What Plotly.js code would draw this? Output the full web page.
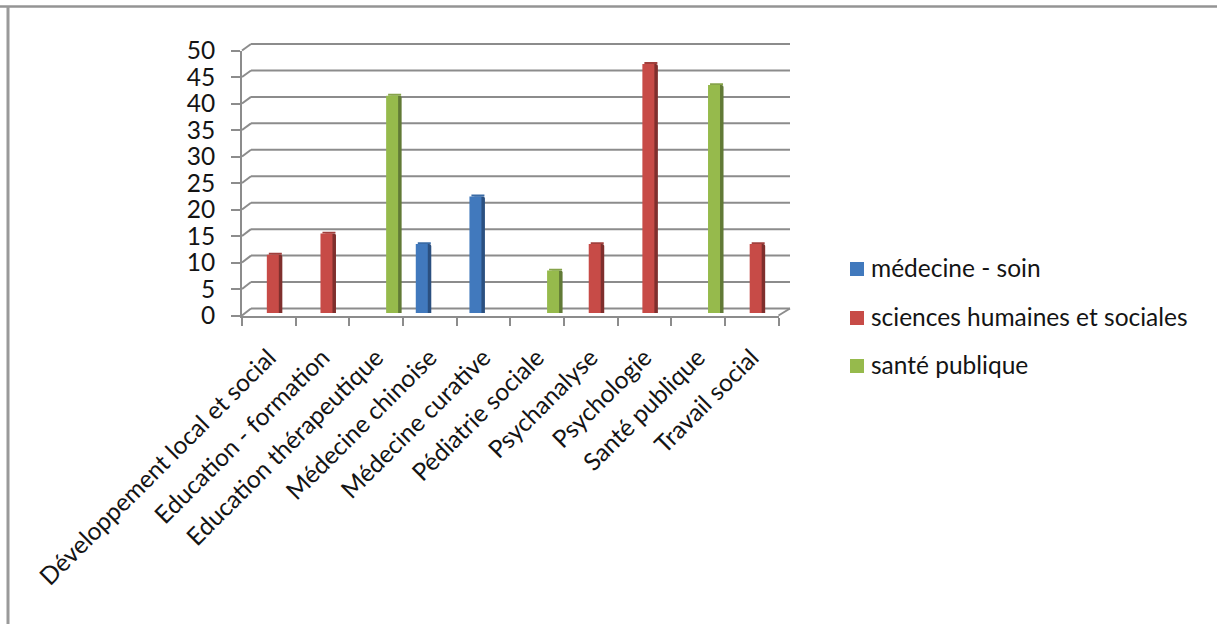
<!DOCTYPE html>
<html><head><meta charset="utf-8">
<script src="https://cdn.plot.ly/plotly-3.0.1.min.js"></script>
<style>html,body{margin:0;padding:0;background:#fff}#c{width:1217px;height:624px}</style>
</head><body><div id="c"></div>
<script>
const categories = ["Développement local et social","Education - formation","Education thérapeutique","Médecine chinoise","Médecine curative","Pédiatrie sociale","Psychanalyse","Psychologie","Santé publique","Travail social"];
const medecineSoin = [null,null,null,13,22,null,null,null,null,null];
const sciencesHumaines = [11,15,null,null,null,null,13,47,null,13];
const santePublique = [null,null,41,null,null,8,null,null,43,null];
const yTicks = [0,5,10,15,20,25,30,35,40,45,50];

const W=1217,H=624;
const px=v=>v/W, py=v=>1-v/H;
const L=242,R=778.5,catW=(R-L)/categories.length;
const gridC='#8c8c8c',textC='#141414';
const FY0=315.5,FY50=50.5,BY0=308.5,BY50=44,DX=9;
const yFront=v=>FY0+(FY50-FY0)*v/50, yBack=v=>BY0+(BY50-BY0)*v/50;

const series=[
 {name:'médecine - soin',vals:medecineSoin,c:'#4179BD',d:'#2B5080',t:'#3A6BA5',off:-14,ly:269},
 {name:'sciences humaines et sociales',vals:sciencesHumaines,c:'#C74B47',d:'#7F2F2D',t:'#A03F3C',off:-2,ly:318},
 {name:'santé publique',vals:santePublique,c:'#96BA4C',d:'#617A36',t:'#86A34A',off:10,ly:366}
];
const traces=[];
series.forEach(s=>{
 traces.push({type:'bar',x:categories,y:s.vals,xaxis:'x',yaxis:'y3',showlegend:false,hoverinfo:'skip',
   offset:(s.off+3.5)/catW,width:12/catW,marker:{color:s.d,line:{width:0},cornerradius:2}});
 traces.push({type:'bar',x:categories,y:s.vals.map(v=>v==null?null:0.35),base:s.vals,xaxis:'x',yaxis:'y3',showlegend:false,hoverinfo:'skip',
   offset:(s.off+2)/catW,width:13/catW,marker:{color:s.t,line:{width:0}}});
 traces.push({type:'bar',x:categories,y:s.vals,name:s.name,xaxis:'x',yaxis:'y3',
   offset:s.off/catW,width:12/catW,marker:{color:s.c,line:{width:0}}});
});
traces.push({type:'scatter',mode:'none',x:categories,y:categories.map(()=>0),xaxis:'x',yaxis:'y',showlegend:false,hoverinfo:'skip'});

const shapes=[];
const line=(x0,y0,x1,y1,w,c)=>({type:'line',xref:'paper',yref:'paper',layer:'below',x0:px(x0),y0:py(y0),x1:px(x1),y1:py(y1),line:{color:c||gridC,width:w||2}});
yTicks.forEach(v=>{
 shapes.push(line(L,yFront(v),L+DX,yBack(v)));
 shapes.push(line(L+DX,yBack(v),790,yBack(v)));
});
shapes.push(line(790,BY0,R,FY0));
shapes.push(line(0,6.5,W,6.5,2.5,'#949494'));
shapes.push(line(8,6.5,8,H,3,'#9a9a9a'));

const font={family:'Lato, Carlito, sans-serif',size:24.5,color:textC};
const annotations=series.map(s=>({xref:'paper',yref:'paper',x:px(869),y:py(s.ly-2),xanchor:'left',yanchor:'middle',showarrow:false,text:s.name,font}));
series.forEach(s=>shapes.push({type:'rect',xref:'paper',yref:'paper',x0:px(850),x1:px(864),y0:py(s.ly-7),y1:py(s.ly+7),fillcolor:s.c,line:{width:0}}));

Plotly.newPlot('c',traces,{
 width:W,height:H,margin:{l:0,r:0,t:0,b:0},paper_bgcolor:'#fff',plot_bgcolor:'rgba(0,0,0,0)',
 barmode:'overlay',font,shapes,annotations,showlegend:false,
 xaxis:{domain:[px(L),px(R)],type:'category',categoryorder:'array',categoryarray:categories,range:[-0.5,9.5],anchor:'y',
   tickangle:-45,tickson:'boundaries',ticks:'outside',ticklen:8,tickwidth:2,tickcolor:gridC,ticklabelstandoff:16,
   showline:true,linecolor:gridC,linewidth:2,showgrid:false,tickfont:{family:font.family,size:24.5,color:textC},automargin:false},
 yaxis:{domain:[py(FY0),py(FY50)],range:[0,50],tickvals:yTicks,ticks:'outside',ticklen:9,tickwidth:2,tickcolor:gridC,ticklabelstandoff:11,
   showline:true,linecolor:gridC,linewidth:2,showgrid:false,zeroline:false,tickfont:{family:font.family,size:24.5,color:textC},automargin:false},
 yaxis3:{range:[-0.47,49.53],overlaying:'y',visible:false,anchor:'x'}
},{displayModeBar:false,staticPlot:true});
</script></body></html>
